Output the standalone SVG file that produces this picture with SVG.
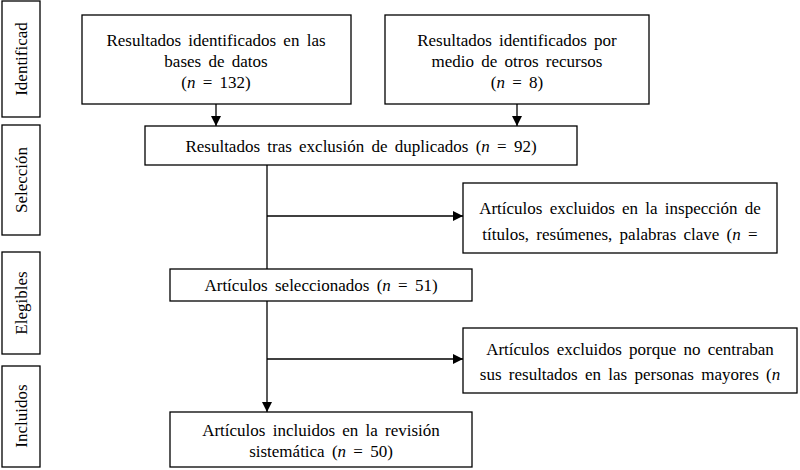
<svg xmlns="http://www.w3.org/2000/svg" width="800" height="470" viewBox="0 0 800 470">
<defs><marker id="ah" markerWidth="12" markerHeight="12" refX="10" refY="5" orient="auto" markerUnits="userSpaceOnUse"><path d="M0,0 L10,5 L0,10 z" fill="#000"/></marker></defs>
<style>
rect{fill:#fff;stroke:#000;stroke-width:1.3}
text{font-family:'Liberation Serif','Times New Roman',serif;font-size:17px;word-spacing:3px;fill:#000;text-anchor:middle}
.c{stroke:#000;stroke-width:1.3;fill:none}
</style>
<rect width="800" height="470" style="stroke:none"/>
<g id="lab1"><rect x="2" y="1" width="38" height="116"/><text transform="translate(27,59) rotate(-90)">Identificad</text></g>
<g id="lab2"><rect x="2" y="125" width="38" height="110"/><text transform="translate(27,180) rotate(-90)">Selección</text></g>
<g id="lab3"><rect x="2" y="252" width="38" height="102"/><text transform="translate(27,303) rotate(-90)">Elegibles</text></g>
<g id="lab4"><rect x="2" y="366" width="38" height="101"/><text transform="translate(27,416) rotate(-90)">Incluidos</text></g>
<g id="b1"><rect x="82" y="15" width="269" height="89"/><text x="216" y="46">Resultados identificados en las</text><text x="216" y="67">bases de datos</text><text x="216" y="88">(<tspan font-style="italic">n</tspan> = 132)</text></g>
<g id="b2"><rect x="385" y="15" width="264" height="89"/><text x="517" y="46">Resultados identificados por</text><text x="517" y="67">medio de otros recursos</text><text x="517" y="88">(<tspan font-style="italic">n</tspan> = 8)</text></g>
<g id="b3"><rect x="145" y="126" width="432" height="39"/><text x="361" y="152">Resultados tras exclusión de duplicados (<tspan font-style="italic">n</tspan> = 92)</text></g>
<g id="b4"><rect x="463" y="183" width="314" height="70"/><text x="620" y="214">Artículos excluidos en la inspección de</text><text x="620" y="240">títulos, resúmenes, palabras clave (<tspan font-style="italic">n</tspan> =</text></g>
<g id="b5"><rect x="170" y="269" width="302" height="32"/><text x="321" y="291">Artículos seleccionados (<tspan font-style="italic">n</tspan> = 51)</text></g>
<g id="b6"><rect x="463" y="328" width="334" height="65"/><text x="630" y="355">Artículos excluidos porque no centraban</text><text x="630" y="380">sus resultados en las personas mayores (<tspan font-style="italic">n</tspan></text></g>
<g id="b7"><rect x="170" y="412" width="302" height="55"/><text x="321" y="436">Artículos incluidos en la revisión</text><text x="321" y="457">sistemática (<tspan font-style="italic">n</tspan> = 50)</text></g>
<g id="connectors">
<line class="c" x1="216" y1="104" x2="216" y2="126" marker-end="url(#ah)"/>
<line class="c" x1="517" y1="104" x2="517" y2="126" marker-end="url(#ah)"/>
<line class="c" x1="267" y1="165" x2="267" y2="269"/>
<line class="c" x1="267" y1="216" x2="463" y2="216" marker-end="url(#ah)"/>
<line class="c" x1="267" y1="301" x2="267" y2="412" marker-end="url(#ah)"/>
<line class="c" x1="267" y1="359" x2="463" y2="359" marker-end="url(#ah)"/>
</g>
</svg>
